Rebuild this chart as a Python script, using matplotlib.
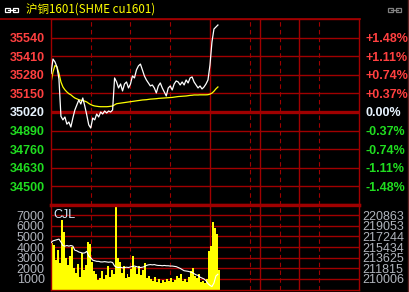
import numpy as np
import matplotlib.pyplot as plt
from matplotlib.patches import Rectangle

plt.rcParams['font.family'] = ['Liberation Sans', 'DejaVu Sans']

# --- data ---
title = '沪铜1601(SHME cu1601)'
base_price = 35020
price_ticks = [34500, 34630, 34760, 34890, 35020, 35150, 35280, 35410, 35540]
pct_labels = ['-1.48%', '-1.11%', '-0.74%', '-0.37%', '0.00%',
              '+0.37%', '+0.74%', '+1.11%', '+1.48%']
vol_ticks = [1000, 2000, 3000, 4000, 5000, 6000, 7000]
oi_ticks = [210006, 211815, 213625, 215434, 217244, 219053, 220863]

# trading minutes: 21:00-01:00, 9:00-10:15, 10:30-11:30, 13:30-15:00
total_minutes = 465
session_ends = [240, 315, 375]
hour_marks = [60, 120, 180, 300, 345, 405]
sample_step = 3

prices = [35290, 35390, 35370, 35335, 35250, 34990, 34965, 34985, 34935, 34950,
          34915, 34978, 35034, 35069, 35104, 35076, 35118, 35062, 34999, 34930,
          34908, 34978, 34965, 35006, 34985, 35020, 35006, 35027, 35013, 35027,
          35020, 35034, 35258, 35230, 35188, 35216, 35167, 35216, 35230, 35188,
          35216, 35272, 35258, 35314, 35342, 35355, 35314, 35272, 35244, 35223,
          35202, 35209, 35188, 35153, 35202, 35223, 35188, 35160, 35132, 35188,
          35202, 35174, 35216, 35237, 35230, 35209, 35230, 35209, 35244, 35223,
          35258, 35265, 35230, 35209, 35188, 35202, 35181, 35195, 35216, 35244,
          35348, 35509, 35600, 35614, 35628]

avg_prices = [35223, 35300, 35345, 35335, 35290, 35230, 35195, 35175, 35160, 35148,
              35140, 35128, 35118, 35112, 35106, 35102, 35100, 35096, 35090, 35080,
              35072, 35066, 35062, 35060, 35058, 35057, 35057, 35057, 35057, 35058,
              35060, 35062, 35070, 35078, 35080, 35082, 35084, 35086, 35088, 35090,
              35092, 35094, 35096, 35098, 35100, 35102, 35104, 35105, 35106, 35108,
              35110, 35111, 35112, 35113, 35115, 35116, 35117, 35118, 35119, 35120,
              35121, 35122, 35124, 35126, 35128, 35129, 35130, 35131, 35132, 35134,
              35136, 35137, 35139, 35139, 35139, 35140, 35140, 35140, 35140, 35141,
              35145, 35152, 35165, 35182, 35195]

volumes = [4400, 4200, 2800, 3700, 2500, 6600, 5400, 3000, 2300, 3200,
           4000, 2000, 1600, 2400, 1200, 3400, 1800, 2300, 4500, 4300,
           2600, 1700, 1500, 900, 1100, 1700, 1000, 1400, 2200, 1200,
           1800, 1500, 7850, 3000, 2600, 1600, 2200, 1100, 1500, 1200,
           1900, 3200, 2100, 1500, 2200, 1400, 1800, 2500, 1100, 1300,
           1000, 800, 1200, 700, 1000, 600, 900, 750, 1000, 800,
           1100, 700, 900, 1300, 1100, 1500, 800, 1000, 700, 1200,
           1700, 2000, 1300, 1100, 1500, 700, 800, 600, 1000, 3600,
           4100, 6400, 5800, 5200, 1800]

open_interest = [216200, 216500, 216600, 216700, 216800, 216300, 215700, 215600, 215700, 215600,
                 215700, 215600, 214900, 214800, 214600, 214500, 214400, 214450, 214700, 213900,
                 213600, 213200, 213100, 213000, 213000, 212900, 212900, 212950, 212900, 212850,
                 212900, 212800, 212200, 212000, 211950, 212000, 211900, 211950, 212000, 211950,
                 212050, 212150, 212200, 212100, 212000, 211950, 212000, 212100, 212300, 212400,
                 212450, 212400, 212450, 212350, 212300, 212300, 212250, 212300, 212250, 212250,
                 212200, 212200, 212150, 212100, 211950, 211800, 211600, 211400, 211350, 211300,
                 211200, 211100, 210900, 210700, 210600, 210300, 210150, 210000, 209700, 209200,
                 208900, 208700, 209300, 210500, 210800]

minutes = np.arange(len(prices)) * sample_step

# --- colours ---
grid_red = '#a00000'
up_red = '#ff4040'
down_green = '#20dd20'
flat_col = '#e8f4ff'
gray_lbl = '#b0b4bc'

W, H = 409, 292
fig = plt.figure(figsize=(W / 100, H / 100), dpi=100, facecolor='black')

# background layer in pixel coords for header and frame
bg = fig.add_axes([0, 0, 1, 1])
bg.set_xlim(0, W)
bg.set_ylim(H, 0)
bg.set_facecolor('black')
bg.axis('off')
bg.plot([0, 360], [19, 19], color=grid_red, lw=1.2)
bg.plot([407.5, 407.5], [0, H], color='#602020', lw=1)
bg.text(26, 9.5, title, color='#ffff00', fontsize=8.3, va='center', ha='left',
        family=['Noto Sans CJK SC', 'DejaVu Sans'])
# link icons
for x0, col in [(5, 'white'), (388, '#808080')]:
    bg.add_patch(Rectangle((x0, 8), 5, 4, fill=False, ec=col, lw=0.9))
    bg.add_patch(Rectangle((x0 + 8, 8), 5, 4, fill=False, ec=col, lw=0.9))
    bg.plot([x0 + 3, x0 + 10], [10, 10], color=col, lw=0.9)

left = 51 / W
width = 308 / W
ax_p = fig.add_axes([left, 1 - 205 / H, width, 186 / H])
ax_v = fig.add_axes([left, 1 - 289.5 / H, width, 84.5 / H])

step = price_ticks[1] - price_ticks[0]
plim = (base_price - 5 * step, base_price + 5 * step)


def style_axes(ax):
    ax.set_facecolor('black')
    ax.set_xlim(0, total_minutes)
    ax.set_xticks([])
    for sp in ax.spines.values():
        sp.set_color(grid_red)
        sp.set_linewidth(1)
    for m in session_ends:
        ax.axvline(m, color=grid_red, lw=1, zorder=0)
    for m in hour_marks:
        ax.axvline(m, color=grid_red, lw=0.8, dashes=(4, 3), zorder=0)


# --- price panel ---
style_axes(ax_p)
ax_p.set_ylim(*plim)
for p in price_ticks:
    if p == base_price:
        ax_p.axhline(p, color=grid_red, lw=2.4, zorder=0)
    else:
        ax_p.axhline(p, color=grid_red, lw=1, zorder=0)
ax_p.spines['bottom'].set_linewidth(2.4)
ax_p.plot(minutes, prices, color='white', lw=0.9, zorder=3)
ax_p.plot(minutes, avg_prices, color='#ffff00', lw=0.9, zorder=2)


def price_color(v):
    if v > base_price:
        return up_red
    if v < base_price:
        return down_green
    return flat_col


ax_p.set_yticks(price_ticks)
ax_p.set_yticklabels([str(p) for p in price_ticks])
ax_p.tick_params(axis='y', length=0, pad=4.5, labelsize=9)
for lbl, v in zip(ax_p.get_yticklabels(), price_ticks):
    lbl.set_color(price_color(v))
    lbl.set_fontweight('bold')

ax_pr = ax_p.twinx()
ax_pr.set_ylim(*plim)
ax_pr.set_yticks(price_ticks)
ax_pr.set_yticklabels(pct_labels)
ax_pr.tick_params(axis='y', length=0, pad=4.5, labelsize=9)
for sp in ax_pr.spines.values():
    sp.set_visible(False)
for lbl, v in zip(ax_pr.get_yticklabels(), price_ticks):
    lbl.set_color(price_color(v))
    lbl.set_fontweight('bold')

# --- volume panel ---
style_axes(ax_v)
vtop = 7970
ax_v.set_ylim(0, vtop)
for v in vol_ticks:
    ax_v.axhline(v, color=grid_red, lw=1, zorder=0)
ax_v.spines['top'].set_linewidth(2.4)
ax_v.bar(minutes, volumes, width=sample_step, align='edge', color='#ffff00',
         lw=0, antialiased=False, zorder=2)
ax_v.set_yticks(vol_ticks)
ax_v.set_yticklabels([str(v) for v in vol_ticks])
ax_v.tick_params(axis='y', length=0, pad=4.5, labelsize=9, colors=gray_lbl)
ax_v.text(3, 7000, 'CJL', color='#d8ecff', fontsize=9, va='center', ha='left', zorder=4)

# open interest on the right scale, matched to the volume grid
oi_per_vol = (oi_ticks[-1] - oi_ticks[0]) / (vol_ticks[-1] - vol_ticks[0])
oi_lo = oi_ticks[0] - vol_ticks[0] * oi_per_vol
oi_hi = oi_lo + vtop * oi_per_vol
ax_o = ax_v.twinx()
ax_o.set_ylim(oi_lo, oi_hi)
ax_o.plot(minutes, open_interest, color='white', lw=0.8, zorder=3)
ax_o.set_yticks(oi_ticks)
ax_o.set_yticklabels([str(v) for v in oi_ticks])
ax_o.tick_params(axis='y', length=0, pad=2.5, labelsize=9, colors=gray_lbl)
for sp in ax_o.spines.values():
    sp.set_visible(False)

fig.savefig('out.png', dpi=100, facecolor='black')
